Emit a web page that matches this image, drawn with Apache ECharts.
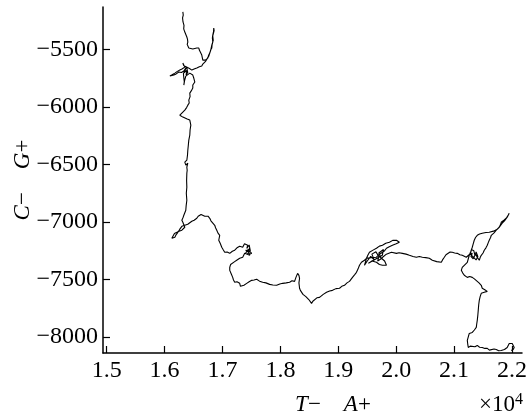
<!DOCTYPE html>
<html>
<head>
<meta charset="utf-8">
<script src="https://cdn.jsdelivr.net/npm/echarts@6/dist/echarts.min.js"></script>
<style>html,body{margin:0;padding:0;background:#fff;}#c{width:530px;height:417px;}</style>
</head>
<body>
<div id="c"></div>
<script>
// DNA walk: x = cumulative (A+ / T-), y = cumulative (G+ / C-)
const walkX = [16315,16322,16310,16318,16335,16330,16349,16370,16384,16395,16401,16390,16418,16450,16487,16520,16556,16575,16591,16600,16625,16642,16630,16660,16677,
16710,16746,16760,16780,16795,16815,16820,16832,16825,16832,16845,16849,16855,16832,16840,16815,16797,16780,16763,16740,16711,16690,16660,16642,
16600,16556,16520,16470,16430,16401,16370,16349,16330,16315,16330,16349,16300,16263,16220,16177,16130,16091,16125,16160,16200,16246,16290,16332,
16360,16380,16400,16370,16390,16340,16370,
16350,16325,16332,16340,16332,16345,16366,16400,16435,16460,16487,16505,16522,16500,16487,16495,16487,16460,16435,16440,16418,16425,16401,16380,16349,16320,16298,16263,16275,16315,16349,16390,16435,16453,16440,16435,16418,16410,16401,16395,16384,16349,16366,16401,16384,16390,16384,16380,16384,16375,16384,16372,16366,16332,16320,16298,16315,16349,16330,16298,16250,16211,16170,16142,16125,16150,16177,16200,16229,16260,16298,16349,16400,16430,16470,16510,16556,16580,16608,16630,16660,16694,16728,16750,16780,16800,16832,16866,16880,16901,16920,16952,16935,16960,16987,17010,17038,17080,17125,17170,17211,17250,17297,17330,17349,17380,17435,
17420,17460,17480,17430,17470,17440,17400,
17469,17440,17400,17460,17504,17450,17383,17349,17297,17270,17245,17210,17176,17140,17125,17110,17125,17150,17176,17190,17211,17250,17297,17310,17332,17370,17418,17460,17504,17545,17590,17640,17694,17750,17814,17870,17935,17990,18039,18100,18159,18200,18245,18270,18297,18320,18331,18320,18331,18345,18366,18390,18418,18440,18469,18490,18538,18560,18590,18630,18676,18740,18797,18850,18900,18960,19021,19060,19107,19150,19193,19220,19245,19280,19314,19340,19366,19400,19452,19487,19510,19538,19600,19659,19710,19763,19820,19883,19940,20004,20055,20000,19935,19880,19832,19800,19763,19700,19659,19570,19487,19452,
19500,19560,19620,19580,19650,19700,19680,19740,19700,19780,19760,
19520,19580,19659,19710,19763,19832,19800,19745,19830,19918,20004,20050,20107,20170,20228,20290,20348,20400,20452,20510,20572,20624,20700,20779,20800,20831,20860,20883,20930,20969,21010,21055,21100,21141,21175,21210,21260,21314,
21290,21330,21360,21340,21300,21280,21320,21380,21410,21380,
21348,21370,21400,21435,21450,21469,21500,21521,21550,21573,21590,21607,21630,21642,21690,21728,21750,21779,21800,21814,21860,21900,21930,21952,21986,21950,21917,21870,21831,21790,21745,21680,21607,21550,21486,21440,21400,21370,21348,21330,21314,21290,21262,21245,21228,21180,21141,21124,21150,21176,21228,21270,21314,21350,21383,21430,21469,21486,21530,21573,21521,21469,21450,21435,21425,21417,21410,21400,21390,21383,21350,21314,21262,21245,21228,21235,21245,21280,21314,21360,21400,21440,21486,21530,21573,21610,21642,21690,21728,21770,21814,21870,21917,21940,21952,22004,22038,22020,21986];
const walkY = [-5173,-5200,-5225,-5260,-5290,-5320,-5348,-5360,-5391,-5410,-5435,-5455,-5487,-5480,-5496,-5485,-5487,-5475,-5487,-5505,-5522,-5548,-5565,-5592,-5609,
-5590,-5574,-5550,-5531,-5505,-5487,-5460,-5435,-5400,-5374,-5345,-5313,-5335,-5382,-5420,-5461,-5504,-5520,-5557,-5575,-5600,-5605,-5626,-5644,
-5650,-5661,-5668,-5679,-5665,-5670,-5650,-5661,-5640,-5618,-5630,-5653,-5670,-5679,-5690,-5705,-5720,-5731,-5728,-5722,-5712,-5696,-5700,-5687,
-5690,-5650,-5700,-5720,-5680,-5700,-5660,
-5670,-5710,-5748,-5780,-5809,-5770,-5731,-5720,-5705,-5715,-5722,-5750,-5783,-5795,-5809,-5825,-5835,-5860,-5879,-5910,-5940,-5965,-5984,-6005,-6027,-6040,-6053,-6071,-6060,-6088,-6097,-6105,-6114,-6158,-6200,-6245,-6288,-6330,-6376,-6420,-6463,-6480,-6506,-6489,-6524,-6550,-6576,-6640,-6698,-6750,-6811,-6860,-6898,-6942,-6960,-6985,-7003,-7046,-7060,-7072,-7080,-7090,-7100,-7116,-7142,-7145,-7133,-7110,-7090,-7065,-7038,-7029,-7020,-7015,-6994,-6985,-6968,-6950,-6942,-6935,-6924,-6950,-6959,-6950,-6968,-6990,-6985,-7029,-7050,-7072,-7095,-7116,-7159,-7185,-7220,-7240,-7264,-7262,-7273,-7255,-7246,-7225,-7212,-7195,-7220,-7190,-7203,
-7230,-7200,-7250,-7280,-7290,-7240,-7270,
-7229,-7260,-7246,-7250,-7273,-7285,-7273,-7307,-7316,-7330,-7333,-7345,-7360,-7370,-7395,-7410,-7421,-7450,-7482,-7505,-7525,-7520,-7534,-7560,-7577,-7550,-7534,-7520,-7508,-7505,-7499,-7515,-7525,-7530,-7543,-7548,-7551,-7540,-7534,-7530,-7525,-7512,-7517,-7480,-7447,-7465,-7490,-7530,-7577,-7595,-7612,-7630,-7639,-7650,-7656,-7675,-7708,-7690,-7682,-7660,-7656,-7630,-7612,-7600,-7595,-7580,-7577,-7560,-7551,-7530,-7517,-7500,-7482,-7460,-7438,-7410,-7377,-7350,-7333,-7316,-7290,-7264,-7245,-7229,-7210,-7203,-7185,-7177,-7160,-7159,-7177,-7190,-7203,-7215,-7229,-7250,-7264,-7285,-7307,-7310,-7316,-7377,
-7340,-7300,-7330,-7280,-7260,-7300,-7340,-7320,-7270,-7240,-7290,
-7360,-7340,-7351,-7370,-7377,-7377,-7340,-7316,-7280,-7264,-7273,-7268,-7273,-7280,-7290,-7300,-7307,-7300,-7307,-7310,-7316,-7333,-7345,-7351,-7330,-7307,-7285,-7273,-7262,-7264,-7270,-7273,-7285,-7290,-7305,-7307,-7285,-7273,
-7300,-7320,-7290,-7250,-7240,-7280,-7300,-7330,-7300,-7260,
-7246,-7280,-7307,-7333,-7310,-7290,-7270,-7246,-7225,-7203,-7180,-7159,-7135,-7116,-7095,-7072,-7060,-7046,-7025,-7003,-6985,-6968,-6945,-6924,-6916,-6940,-6959,-6990,-7011,-7040,-7064,-7080,-7090,-7092,-7098,-7105,-7116,-7135,-7159,-7190,-7220,-7255,-7290,-7320,-7351,-7375,-7395,-7421,-7445,-7464,-7482,-7475,-7482,-7495,-7508,-7530,-7551,-7577,-7590,-7604,-7612,-7621,-7650,-7682,-7720,-7769,-7810,-7856,-7890,-7917,-7940,-7961,-7970,-8000,-8031,-8060,-8092,-8080,-8074,-8085,-8074,-8090,-8092,-8100,-8100,-8115,-8118,-8105,-8109,-8120,-8118,-8110,-8092,-8075,-8057,-8057,-8092,-8110,-8118];
const xTicks = [15000,16000,17000,18000,19000,20000,21000,22000];
const yTicks = [-8000,-7500,-7000,-6500,-6000,-5500];
const xRange = [14936, 22173];
const yRange = [-8140, -5130];

const chart = echarts.init(document.getElementById('c'), null, {renderer: 'canvas'});
const font = 'Liberation Serif';
const n = Math.min(walkX.length, walkY.length);
const pts = walkX.slice(0, n).map((x, i) => [x, walkY[i]]);
chart.setOption({
  animation: false,
  backgroundColor: '#fff',
  textStyle: {fontFamily: font},
  grid: {left: 103, right: 7, top: 7, bottom: 64, containLabel: false},
  xAxis: {
    type: 'value', min: xRange[0], max: xRange[1],
    axisLine: {show: true, onZero: false, lineStyle: {color: '#000', width: 1.5}},
    axisTick: {show: true, inside: true, length: 7, customValues: xTicks, lineStyle: {color: '#000', width: 1.2}},
    axisLabel: {customValues: xTicks, margin: 6, color: '#000', fontFamily: font, fontSize: 24,
      formatter: v => (v / 10000).toFixed(1)},
    splitLine: {show: false}
  },
  yAxis: {
    type: 'value', min: yRange[0], max: yRange[1],
    axisLine: {show: true, onZero: false, lineStyle: {color: '#000', width: 1.5}},
    axisTick: {show: true, inside: true, length: 7, customValues: yTicks, lineStyle: {color: '#000', width: 1.2}},
    axisLabel: {customValues: yTicks, margin: 5, color: '#000', fontFamily: font, fontSize: 24,
      formatter: v => (v < 0 ? '\u2212' : '') + Math.abs(v)},
    splitLine: {show: false}
  },
  graphic: [
    {type: 'text', x: 23, y: 180, rotation: Math.PI / 2, style: {
      text: '{i|C}\u2212    {i|G}+', x: 0, y: 0, align: 'center', verticalAlign: 'middle',
      font: '23px "Liberation Serif"', fill: '#000',
      rich: {i: {fontStyle: 'italic', fontFamily: font, fontSize: 23}}}},
    {type: 'text', x: 333, y: 405, style: {
      text: '{i|T}\u2212    {i|A}+', align: 'center', verticalAlign: 'middle',
      font: '23px "Liberation Serif"', fill: '#000',
      rich: {i: {fontStyle: 'italic', fontFamily: font, fontSize: 23}}}},
    {type: 'text', x: 523, y: 405, style: {
      text: '\u00d710{s|4}', align: 'right', verticalAlign: 'middle',
      font: '23px "Liberation Serif"', fill: '#000',
      rich: {s: {fontFamily: font, fontSize: 16, verticalAlign: 'top', padding: [0, 0, 10, 0]}}}}
  ],
  series: [{
    type: 'line', data: pts, showSymbol: false, symbol: 'none',
    lineStyle: {color: '#000', width: 1.1}, silent: true
  }]
});
</script>
</body>
</html>
